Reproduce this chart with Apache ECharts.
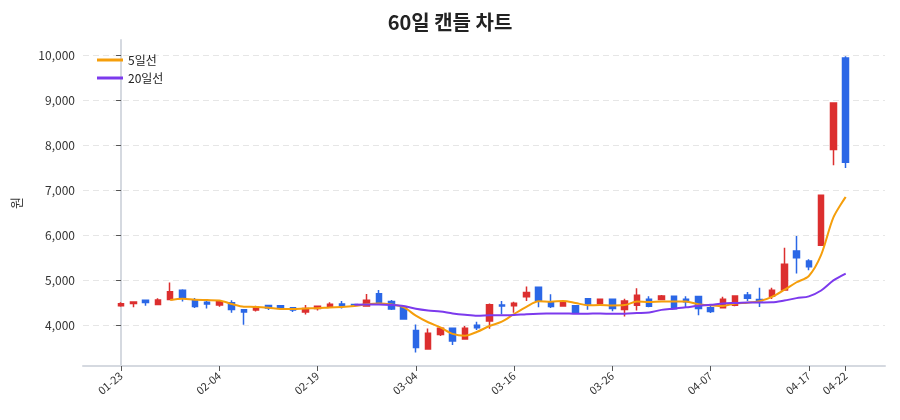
<!DOCTYPE html>
<html>
<head>
<meta charset="utf-8">
<script src="https://cdn.jsdelivr.net/npm/echarts@6.0.0/dist/echarts.min.js"></script>
<style>
  html, body { margin: 0; padding: 0; background: #fff; }
  #chart { width: 900px; height: 420px; }
</style>
</head>
<body>
<div id="chart"></div>
<script>
// 2026 거래일 (60일)
const dates = [
  '01-23', '01-26', '01-27', '01-28', '01-29', '01-30', '02-02', '02-03', '02-04', '02-05',
  '02-06', '02-09', '02-10', '02-11', '02-12', '02-13', '02-19', '02-20', '02-23', '02-24',
  '02-25', '02-26', '02-27', '03-03', '03-04', '03-05', '03-06', '03-09', '03-10', '03-11',
  '03-12', '03-13', '03-16', '03-17', '03-18', '03-19', '03-20', '03-23', '03-24', '03-25',
  '03-26', '03-27', '03-30', '03-31', '04-01', '04-02', '04-03', '04-06', '04-07', '04-08',
  '04-09', '04-10', '04-13', '04-14', '04-15', '04-16', '04-17', '04-20', '04-21', '04-22'
]
const opens = [
  4430, 4480, 4555, 4460, 4570, 4775, 4555, 4510, 4450, 4500,
  4345, 4335, 4435, 4430, 4390, 4290, 4370, 4415, 4470, 4460,
  4425, 4700, 4525, 4405, 3880, 3470, 3790, 3930, 3690, 4000,
  4090, 4450, 4430, 4630, 4845, 4515, 4425, 4430, 4585, 4480,
  4575, 4350, 4445, 4575, 4570, 4645, 4575, 4635, 4390, 4390,
  4445, 4670, 4570, 4645, 4785, 5650, 5430, 5780, 7910, 9950
]
const closes = [
  4475, 4515, 4505, 4560, 4745, 4600, 4415, 4470, 4520, 4350,
  4290, 4400, 4380, 4380, 4335, 4370, 4420, 4465, 4425, 4450,
  4555, 4505, 4360, 4135, 3500, 3820, 3930, 3645, 3930, 3940,
  4455, 4425, 4490, 4725, 4555, 4415, 4500, 4275, 4470, 4575,
  4370, 4540, 4665, 4420, 4650, 4365, 4520, 4370, 4305, 4575,
  4650, 4600, 4545, 4775, 5355, 5500, 5300, 6890, 8945, 7630
]
const lows = [
  4410, 4400, 4430, 4450, 4560, 4525, 4380, 4370, 4410, 4275,
  4010, 4305, 4335, 4340, 4295, 4235, 4325, 4385, 4370, 4440,
  4420, 4500, 4335, 4130, 3390, 3465, 3760, 3560, 3685, 3890,
  3920, 4245, 4275, 4535, 4400, 4380, 4420, 4270, 4340, 4475,
  4310, 4190, 4325, 4400, 4560, 4350, 4390, 4220, 4270, 4385,
  4420, 4540, 4405, 4580, 4780, 5150, 5220, 5770, 7560, 7500
]
const highs = [
  4510, 4520, 4560, 4600, 4950, 4800, 4605, 4555, 4530, 4555,
  4350, 4430, 4440, 4435, 4400, 4450, 4425, 4510, 4535, 4470,
  4695, 4785, 4560, 4420, 4015, 3925, 3940, 3940, 3980, 4075,
  4480, 4535, 4520, 4860, 4850, 4690, 4510, 4435, 4590, 4580,
  4580, 4585, 4820, 4645, 4670, 4650, 4645, 4645, 4430, 4630,
  4660, 4740, 4835, 4835, 5725, 5985, 5465, 6890, 8950, 9990
]
const xLabelIdx = [0, 8, 16, 24, 32, 40, 48, 56, 59]
const yTicks = [4000, 5000, 6000, 7000, 8000, 9000, 10000]

function movingAverage(n) {
  const out = []
  for (let i = n - 1; i < closes.length; i++) {
    let sum = 0
    for (let j = i - n + 1; j <= i; j++) sum += closes[j]
    out.push([i, sum / n])
  }
  return out
}

const candleData = dates.map((d, i) => [i, opens[i], closes[i], lows[i], highs[i]])

const myChart = echarts.init(document.getElementById('chart'))
const font = '"Noto Sans CJK KR", "Noto Sans", sans-serif'

const option = {
  animation: false,
  textStyle: { fontFamily: font },
  title: {
    text: '60일 캔들 차트',
    left: 'center',
    top: 7,
    textStyle: { fontSize: 20, fontWeight: 'bold', color: '#222', fontFamily: font }
  },
  legend: {
    orient: 'vertical',
    left: 92,
    top: 49,
    itemWidth: 26,
    itemHeight: 14,
    itemGap: 6,
    textStyle: { fontSize: 12, color: '#222' },
    data: [
      { name: '5일선', icon: 'path://M0,0 L26,0 L26,3 L0,3 Z' },
      { name: '20일선', icon: 'path://M0,0 L26,0 L26,3 L0,3 Z' }
    ]
  },
  grid: {
    left: 83,
    right: 15,
    top: 40,
    bottom: 54
  },
  xAxis: {
    type: 'value',
    min: -3.1,
    max: 62.2,
    splitLine: { show: false },
    axisLine: { show: true, onZero: false, lineStyle: { color: '#d5d9e0', width: 2 } },
    axisTick: {
      show: true,
      customValues: xLabelIdx,
      length: 5,
      lineStyle: { color: '#555' }
    },
    axisLabel: {
      customValues: xLabelIdx,
      rotate: 40,
      fontSize: 11,
      color: '#333',
      margin: 8,
      formatter: v => dates[v]
    }
  },
  yAxis: {
    type: 'value',
    name: '원',
    nameLocation: 'middle',
    nameGap: 60,
    nameTextStyle: { fontSize: 13, color: '#333' },
    min: 3090,
    max: 10350,
    axisLine: { show: true, lineStyle: { color: '#d5d9e0', width: 2 } },
    axisTick: {
      show: true,
      customValues: yTicks,
      length: 5,
      lineStyle: { color: '#555' }
    },
    axisLabel: {
      customValues: yTicks,
      fontSize: 12,
      color: '#333',
      formatter: v => v.toLocaleString('en-US')
    },
    splitLine: {
      show: true,
      lineStyle: { color: '#e6e6e6', type: [6, 4] }
    }
  },
  series: [
    {
      name: '캔들',
      type: 'candlestick',
      data: candleData,
      encode: { x: 0, y: [1, 2, 3, 4] },
      barWidth: 6,
      itemStyle: {
        color: '#dc2f2f',
        color0: '#2b67e6',
        borderColor: '#dc2f2f',
        borderColor0: '#2b67e6',
        borderWidth: 1.5
      }
    },
    {
      name: '5일선',
      type: 'line',
      data: movingAverage(5),
      smooth: 0.3,
      showSymbol: false,
      lineStyle: { color: '#f59e0b', width: 2 },
      itemStyle: { color: '#f59e0b' }
    },
    {
      name: '20일선',
      type: 'line',
      data: movingAverage(20),
      smooth: 0.3,
      showSymbol: false,
      lineStyle: { color: '#7c3aed', width: 2 },
      itemStyle: { color: '#7c3aed' }
    }
  ]
}
myChart.setOption(option)
</script>
</body>
</html>
